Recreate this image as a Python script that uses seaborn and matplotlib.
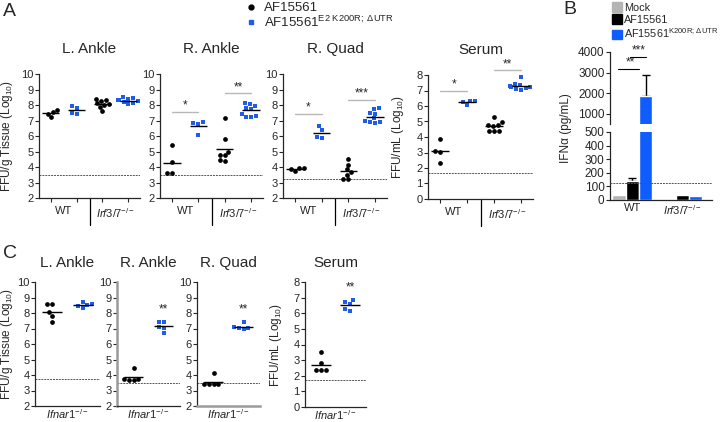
"""
Viral titers (panels A, C) and serum IFN-alpha (panel B), redrawn with seaborn.
"""

import numpy as np
import pandas as pd
import seaborn as sns
import matplotlib.pyplot as plt
from matplotlib.lines import Line2D
from matplotlib.patches import Patch

W, H = 720, 422

AF_COLOR = "black"
E2_COLOR = "#1f5de8"
BAR_BLUE = "#0f5cff"
MOCK_GRAY = "#b4b4b4"
BRACKET_GRAY = "#b8b8b8"

# ---- panel A data: log10 titers, groups = WT/AF15561, WT/E2, Irf3/7/AF15561, Irf3/7/E2
L_ANKLE_A = [
    [7.45, 7.2, 7.55, 7.65],
    [7.8, 7.45, 7.5, 7.95],
    [8.35, 8.4, 8.25, 8.05, 8.0, 7.85, 7.6, 8.1],
    [8.5, 8.4, 8.3, 8.25, 8.2, 8.1, 8.05, 8.45, 8.3],
]
R_ANKLE_A = [
    [5.45, 4.35, 3.6, 3.6],
    [6.85, 6.8, 6.9, 6.05],
    [7.15, 5.8, 5.0, 4.8, 4.75, 4.45, 4.4],
    [8.1, 8.05, 7.95, 7.75, 7.8, 7.45, 7.25, 7.2, 7.3],
]
R_QUAD_A = [
    [3.95, 3.75, 3.9, 3.95],
    [6.65, 6.4, 5.9, 5.95],
    [4.5, 4.15, 3.85, 3.7, 3.5, 3.2, 3.2],
    [7.8, 7.75, 7.45, 7.5, 7.15, 6.9, 6.85, 6.9, 7.0],
]
SERUM_A = [
    [3.85, 3.1, 3.05, 2.3],
    [6.35, 6.25, 6.3, 6.05],
    [5.3, 4.95, 4.75, 4.7, 4.8, 4.4, 4.4, 4.4],
    [7.9, 7.4, 7.35, 7.25, 7.2, 7.1, 7.3, 7.15, 7.05],
]
LOD_A = [3.5, 3.5, 3.2, 1.7]

# ---- panel C data: Ifnar1-/-, groups = AF15561, E2
L_ANKLE_C = [[8.6, 8.6, 8.05, 7.8, 7.4], [8.7, 8.55, 8.45, 8.35, 8.5]]
R_ANKLE_C = [[4.45, 3.75, 3.7, 3.75, 3.7], [7.45, 7.4, 7.05, 6.7, 7.1]]
R_QUAD_C = [[4.1, 3.45, 3.45, 3.45, 3.45], [7.4, 7.1, 7.05, 7.0, 7.05]]
SERUM_C = [[3.55, 2.8, 2.35, 2.35, 2.35], [6.85, 6.7, 6.6, 6.25, 6.15]]
LOD_C = [3.72, 3.5, 3.5, 1.7]

# ---- panel B data: IFN-alpha pg/mL
IFN_GENOTYPES = ["WT", "Irf3/7"]
IFN_VIRUSES = ["Mock", "AF15561", "E2"]
IFN_MOCK = [35, 0]
IFN_AF = [140, 35]
IFN_E2 = [1850, 30]
IFN_AF_ERR = [25, 0]
IFN_E2_ERR = [1050, 0]
IFN_LOD = 125

TISSUES = ["L. Ankle", "R. Ankle", "R. Quad", "Serum"]
GROUPS_A = ["WT_AF", "WT_E2", "KO_AF", "KO_E2"]
GROUPS_C = ["KO_AF", "KO_E2"]

IRF_LABEL = r"$\mathit{Irf3/7}^{-/-}$"
IFNAR_LABEL = r"$\mathit{Ifnar1}^{-/-}$"
E2_LABEL_A = r"AF15561$^{\mathrm{E2\ K200R;\ \Delta UTR}}$"
E2_LABEL_B = r"AF15561$^{\mathrm{K200R;\,\Delta UTR}}$"

TICK_SIZE = 8
LABEL_SIZE = 8.5

sns.set_style("ticks")
plt.rcParams["font.family"] = ["Liberation Sans", "DejaVu Sans"]
plt.rcParams["mathtext.fontset"] = "custom"
plt.rcParams["mathtext.rm"] = "Liberation Sans"
plt.rcParams["mathtext.it"] = "Liberation Sans:italic"
plt.rcParams["axes.linewidth"] = 0.9


def px_axes(fig, x0, y0, x1, y1):
    return fig.add_axes([x0 / W, 1 - y1 / H, (x1 - x0) / W, (y1 - y0) / H])


def titer_frame(values, groups):
    rows = [(g, v) for g, vals in zip(groups, values) for v in vals]
    return pd.DataFrame(rows, columns=["group", "log_titer"])


def draw_titers(ax, values, groups, lod, ylim, title, title_pad):
    df = titer_frame(values, groups)
    for g in groups:
        is_af = g.endswith("AF")
        sns.swarmplot(data=df[df["group"] == g], x="group", y="log_titer", order=groups,
                      color=AF_COLOR if is_af else E2_COLOR, marker="o" if is_af else "s",
                      size=3.4, linewidth=0, ax=ax, zorder=3)
    means = df.groupby("group")["log_titer"].mean()
    for i, g in enumerate(groups):
        ax.hlines(means[g], i - 0.33, i + 0.33, color="black", lw=1, zorder=4)
    ax.axhline(lod, color="#555555", lw=0.7, ls=(0, (2, 1)), zorder=1)
    ax.set_ylim(*ylim)
    ax.set_yticks(range(int(ylim[0]), int(ylim[1]) + 1))
    ax.set_xlabel("")
    ax.set_ylabel("")
    ax.set_title(title, fontsize=11, pad=title_pad)
    ax.tick_params(axis="y", labelsize=TICK_SIZE, length=3, width=0.8, pad=1)
    sns.despine(ax=ax)


def add_bracket(ax, x0, x1, y, label):
    ax.plot([x0, x1], [y, y], color=BRACKET_GRAY, lw=1, clip_on=False)
    ax.text((x0 + x1) / 2, y + 0.02, label, ha="center", va="bottom", fontsize=8.5, clip_on=False)


def set_ylabel_at(ax, text, x_px, box):
    # x_px is the horizontal centre of the rotated label, in figure pixels
    ax.set_ylabel(text, fontsize=LABEL_SIZE)
    ax.yaxis.set_label_coords((x_px + 6 - box[0]) / (box[2] - box[0]), 0.5)


fig = plt.figure(figsize=(W / 100, H / 100), dpi=100)

# ---- panel A
a_boxes = [(39, 74, 140, 198), (160, 74, 263, 198), (283, 74, 387, 198), (428, 75, 533, 199)]
a_data = [L_ANKLE_A, R_ANKLE_A, R_QUAD_A, SERUM_A]
a_axes = []
for i, (box, vals) in enumerate(zip(a_boxes, a_data)):
    ax = px_axes(fig, *box)
    ylim = (0, 8) if TISSUES[i] == "Serum" else (2, 10)
    draw_titers(ax, vals, GROUPS_A, LOD_A[i], ylim, TISSUES[i], 15)
    ax.set_xlim(-0.45, 3.45)
    ax.set_xticks([0, 1, 2, 3])
    ax.set_xticklabels([])
    ax.set_xticks([0.5, 2.5], minor=True)
    ax.set_xticklabels(["WT", IRF_LABEL], minor=True)
    ax.tick_params(axis="x", which="major", length=3, width=0.8)
    ax.tick_params(axis="x", which="minor", length=0, pad=6, labelsize=TICK_SIZE)
    ax.plot([1.5, 1.5], [0, -0.22], transform=ax.get_xaxis_transform(),
            color="black", lw=0.9, clip_on=False)
    a_axes.append(ax)

set_ylabel_at(a_axes[0], "FFU/g Tissue (Log$_{10}$)", 9, a_boxes[0])
set_ylabel_at(a_axes[3], "FFU/mL (Log$_{10}$)", 400, a_boxes[3])
add_bracket(a_axes[1], 0, 1, 7.57, "*")
add_bracket(a_axes[1], 2, 3, 8.75, "**")
add_bracket(a_axes[2], 0, 1, 7.42, "*")
add_bracket(a_axes[2], 2, 3, 8.32, "***")
add_bracket(a_axes[3], 0, 1, 6.97, "*")
add_bracket(a_axes[3], 2, 3, 8.3, "**")

fig.legend(handles=[Line2D([], [], marker="o", color=AF_COLOR, ls="none", markersize=3.5),
                    Line2D([], [], marker="s", color=E2_COLOR, ls="none", markersize=3.5)],
           labels=["AF15561", E2_LABEL_A], loc="upper left", bbox_to_anchor=(244 / W, 1 - 2 / H),
           frameon=False, fontsize=9.5, handlelength=1.0, handletextpad=0.5,
           labelspacing=0.05, borderpad=0, borderaxespad=0)

# ---- panel C
c_boxes = [(35, 282, 100, 406), (117, 282, 180, 406), (197, 282, 260, 406), (305, 282, 366, 407)]
c_data = [L_ANKLE_C, R_ANKLE_C, R_QUAD_C, SERUM_C]
c_axes = []
for i, (box, vals) in enumerate(zip(c_boxes, c_data)):
    ax = px_axes(fig, *box)
    ylim = (0, 8) if TISSUES[i] == "Serum" else (2, 10)
    draw_titers(ax, vals, GROUPS_C, LOD_C[i], ylim, TISSUES[i], 11)
    ax.set_xlim(-0.55, 1.55)
    ax.set_xticks([0.5])
    ax.set_xticklabels([IFNAR_LABEL])
    ax.tick_params(axis="x", length=0, pad=1, labelsize=TICK_SIZE)
    c_axes.append(ax)

set_ylabel_at(c_axes[0], "FFU/g Tissue (Log$_{10}$)", 9, c_boxes[0])
set_ylabel_at(c_axes[3], "FFU/mL (Log$_{10}$)", 278, c_boxes[3])
for ax, y in zip(c_axes[1:], [7.85, 7.85, 7.3]):
    ax.text(1, y, "**", ha="center", va="bottom", fontsize=8.5)
c_axes[1].spines["left"].set(color="#9a9a9a", linewidth=1.8)
c_axes[2].spines["bottom"].set(color="#9a9a9a", linewidth=1.8)

# ---- panel B: broken y axis
ifn_df = pd.DataFrame({
    "genotype": np.repeat(IFN_GENOTYPES, len(IFN_VIRUSES)),
    "virus": IFN_VIRUSES * len(IFN_GENOTYPES),
    "ifn": [v for trio in zip(IFN_MOCK, IFN_AF, IFN_E2) for v in trio],
})
ifn_err = [[0, 0], IFN_AF_ERR, IFN_E2_ERR]
palette = {"Mock": MOCK_GRAY, "AF15561": "black", "E2": BAR_BLUE}

ax_lo = px_axes(fig, 610, 132, 712, 200)
ax_hi = px_axes(fig, 610, 52, 712, 124)
for ax in (ax_lo, ax_hi):
    sns.barplot(data=ifn_df, x="genotype", y="ifn", hue="virus", order=IFN_GENOTYPES,
                hue_order=IFN_VIRUSES, palette=palette, errorbar=None, width=0.8,
                saturation=1, legend=False, ax=ax, zorder=2)
    for container, errs in zip(ax.containers, ifn_err):
        for bar, e in zip(container, errs):
            if e > 0:
                xc = bar.get_x() + bar.get_width() / 2
                ax.errorbar(xc, bar.get_height(), yerr=[[0], [e]], color="black",
                            lw=1, capsize=3, capthick=1, zorder=1)
    ax.set_xlim(-0.45, 1.6)
    ax.set_xlabel("")
    ax.set_ylabel("")
    ax.tick_params(axis="y", labelsize=8.5, length=3, width=0.8, pad=1)

ax_lo.set_ylim(0, 500)
ax_lo.set_yticks(range(0, 501, 100))
ax_lo.set_xticks([0, 1])
ax_lo.set_xticklabels(["WT", IRF_LABEL])
ax_lo.tick_params(axis="x", length=0, pad=2, labelsize=TICK_SIZE)
ax_lo.axhline(IFN_LOD, color="#555555", lw=0.7, ls=(0, (2, 1)), zorder=3)
sns.despine(ax=ax_lo)

ax_hi.set_ylim(500, 4000)
ax_hi.set_yticks([1000, 2000, 3000, 4000])
ax_hi.set_xticks([])
sns.despine(ax=ax_hi, bottom=True)
ax_hi.plot([-0.28, 0.14], [3180, 3180], color="black", lw=0.8)
ax_hi.text(-0.05, 3180, "**", ha="center", va="bottom", fontsize=8.5)
ax_hi.plot([-0.04, 0.28], [3760, 3760], color="black", lw=0.8)
ax_hi.text(0.12, 3760, "***", ha="center", va="bottom", fontsize=8.5, clip_on=False)

fig.text(566 / W, 1 - 128 / H, "IFNα (pg/mL)", rotation=90, ha="center", va="center",
         fontsize=LABEL_SIZE)
fig.legend(handles=[Patch(color=MOCK_GRAY), Patch(color="black"), Patch(color=BAR_BLUE)],
           labels=["Mock", "AF15561", E2_LABEL_B], loc="upper left",
           bbox_to_anchor=(612 / W, 1 - 2 / H), frameon=False, fontsize=7.8, handlelength=0.9,
           handleheight=1.0, handletextpad=0.25, labelspacing=0.15, borderpad=0, borderaxespad=0)

# ---- panel letters
fig.text(3 / W, 1 - 12 / H, "A", fontsize=14, va="center")
fig.text(563 / W, 1 - 10 / H, "B", fontsize=14, va="center")
fig.text(3 / W, 1 - 254 / H, "C", fontsize=14, va="center")

fig.savefig("out.png", dpi=100)
